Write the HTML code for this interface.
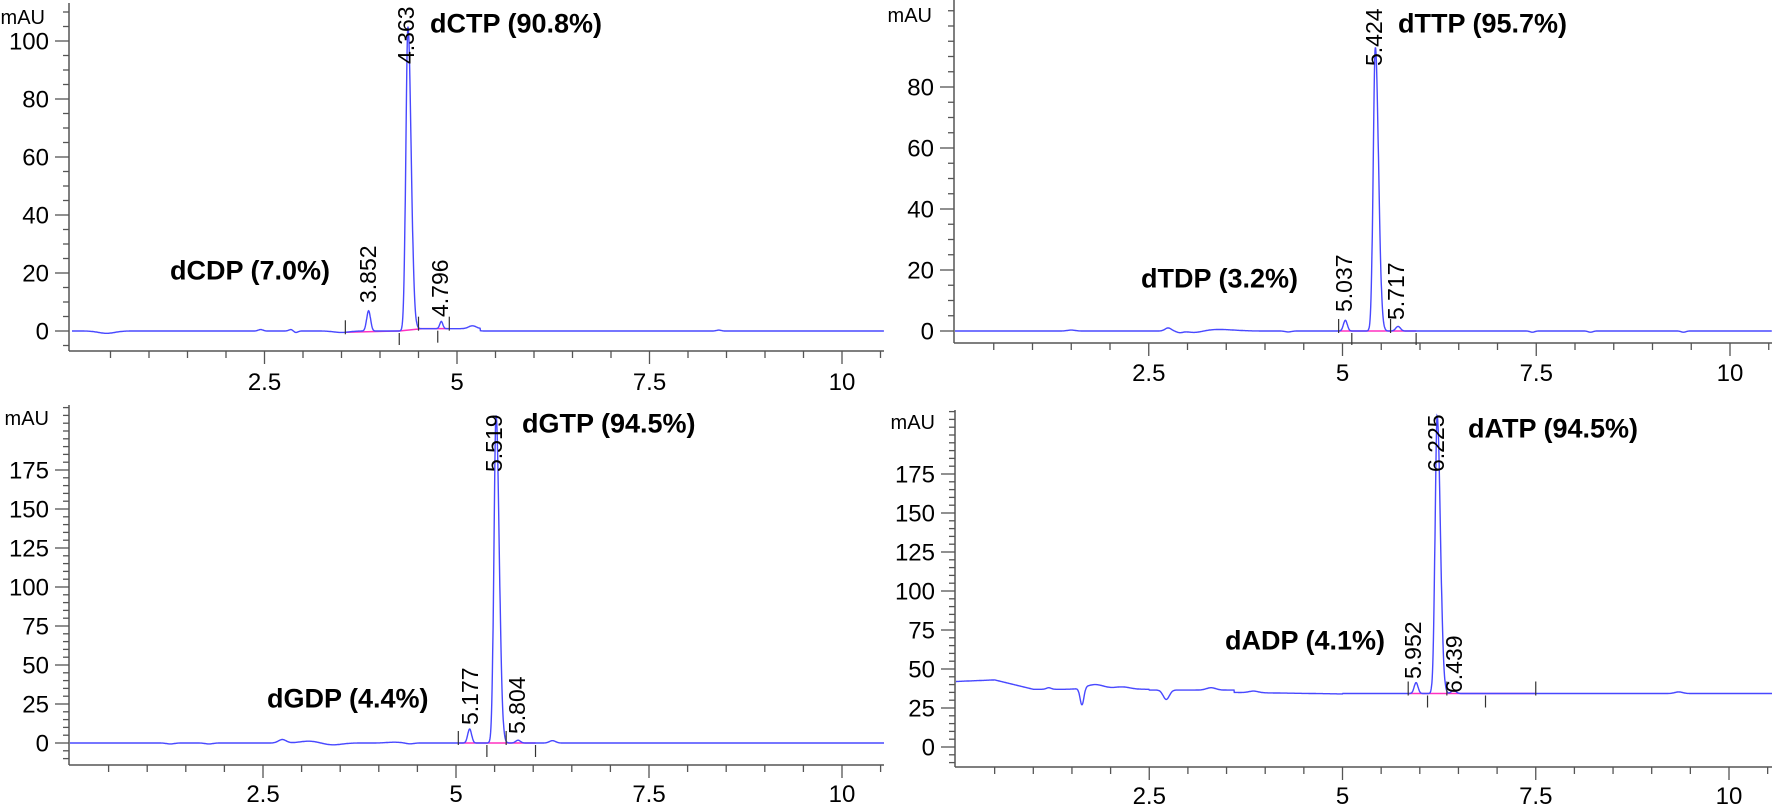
<!DOCTYPE html>
<html><head><meta charset="utf-8">
<style>
html,body{margin:0;padding:0;background:#fff;}
svg{display:block;}
text{font-family:"Liberation Sans",Arial,sans-serif;fill:#000;}
</style></head>
<body>
<svg id="s" width="1772" height="805" viewBox="0 0 1772 805" xmlns="http://www.w3.org/2000/svg">
<g id="g"></g>
</svg>
<script>
var NS="http://www.w3.org/2000/svg";
var g=document.getElementById("g");
function el(t,a,txt){var e=document.createElementNS(NS,t);for(var k in a)e.setAttribute(k,a[k]);if(txt!==undefined)e.textContent=txt;g.appendChild(e);return e;}
function line(x1,y1,x2,y2,c,w){el("line",{x1:x1,y1:y1,x2:x2,y2:y2,stroke:c||"#555","stroke-width":w||1.5});}
function gauss(t,c,h,s,tail){var d=t-c;var ss=(d>0&&tail)?s*tail:s;return h*Math.exp(-d*d/(2*ss*ss));}

var panels=[
 {ax:69,x0:72,sx:77,top:3,bot:351,y0:331,sy:2.9,maj:20,majMax:100,minMin:-5,minMax:110,xend:884,lab:[0,20,40,60,80,100],mau:[45,17],xl:381,
  base:function(t){return -0.8*Math.exp(-Math.pow((t-0.45)/0.15,2))+0.5*gauss(t,2.45,1,0.03)+0.6*gauss(t,2.85,1,0.03)-0.6*gauss(t,2.9,1,0.03)-0.5*gauss(t,3.5,1,0.1)+(t>4.4&&t<5.3?0.8:0)+1*gauss(t,5.2,1,0.05)+0.3*gauss(t,8.4,1,0.03);},
  peaks:[[3.852,7,0.025],[4.363,105,0.027,1.5],[4.796,2.5,0.02]],
  pink:[[3.55,4.25],[4.25,4.55],[4.55,4.9]],marks:[3.55,4.25,4.5,4.75,4.9],
  rl:[["3.852",368,303],["4.363",406,64],["4.796",440,317]],
  bl:[["dCTP (90.8%)",430,23],["dCDP (7.0%)",170,270]]},
 {ax:954,x0:955,sx:77.5,top:0,bot:343,y0:331,sy:3.05,maj:20,majMax:80,minMin:-5,minMax:105,xend:1772,lab:[0,20,40,60,80],mau:[932,15],xl:372,
  base:function(t){return 0.3*gauss(t,1.5,1,0.05)+1.0*gauss(t,2.75,1,0.04)-0.5*gauss(t,2.9,1,0.04)-0.6*gauss(t,3.1,1,0.1)+0.5*gauss(t,3.4,1,0.2)-0.3*gauss(t,4.3,1,0.04)-0.4*gauss(t,7.45,1,0.03)-0.4*gauss(t,8.2,1,0.03)-0.4*gauss(t,9.4,1,0.03);},
  peaks:[[5.037,3.5,0.025],[5.424,93,0.027,1.5],[5.717,1.5,0.03]],
  pink:[[4.95,5.55],[5.55,5.95]],marks:[4.95,5.12,5.62,5.95],
  rl:[["5.037",1344,312],["5.424",1374,66],["5.717",1396,320]],
  bl:[["dTTP (95.7%)",1398,23],["dTDP (3.2%)",1141,278]]},
 {ax:69,x0:70,sx:77.2,top:405,bot:765,y0:743,sy:1.56,maj:25,majMax:175,minMin:-10,minMax:215,xend:884,lab:[0,25,50,75,100,125,150,175],mau:[49,418],xl:793,
  base:function(t){return -0.6*gauss(t,1.3,1,0.05)-0.6*gauss(t,1.8,1,0.05)+2.2*gauss(t,2.75,1,0.05)+1.2*gauss(t,3.1,1,0.12)-1.2*gauss(t,3.4,1,0.12)+0.5*gauss(t,4.2,1,0.1)-0.6*gauss(t,4.4,1,0.05)+1.5*gauss(t,6.25,1,0.04);},
  peaks:[[5.177,9,0.025],[5.519,210,0.027,1.5],[5.804,1.8,0.03]],
  pink:[[5.03,5.4],[5.4,6.03]],marks:[5.03,5.4,5.65,6.03],
  rl:[["5.177",470,725],["5.519",494,472],["5.804",517,734]],
  bl:[["dGTP (94.5%)",522,423],["dGDP (4.4%)",267,698]]},
 {ax:955,x0:956,sx:77.3,top:410,bot:767,y0:747,sy:1.56,maj:25,majMax:175,minMin:-10,minMax:215,xend:1772,lab:[0,25,50,75,100,125,150,175],mau:[935,422],xl:795,
  base:function(t){var b;
    if(t<0.5)b=42+t*2;else if(t<1.0)b=43-(t-0.5)*12;else if(t<2.0)b=37;else if(t<2.5)b=37;else if(t<3.6)b=36.5;else if(t<5)b=35-(t-3.6)*0.7;else b=34.3;
    b+=3*gauss(t,1.8,1,0.12)+1*gauss(t,1.2,1,0.03)-11*gauss(t,1.63,1,0.025)+1.5*gauss(t,3.3,1,0.06)-6*gauss(t,2.72,1,0.04)+1*gauss(t,3.85,1,0.06)+1*gauss(t,9.35,1,0.05)+1.5*gauss(t,2.15,1,0.1);return b;},
  peaks:[[5.952,7,0.025],[6.225,178,0.027,1.5],[6.439,2,0.03]],
  pink:[[5.85,6.1],[6.1,7.5]],marks:[5.85,6.1,6.35,6.85,7.5],
  rl:[["5.952",1413,679],["6.225",1436,472],["6.439",1454,693]],
  bl:[["dATP (94.5%)",1468,428],["dADP (4.1%)",1225,640]]}
];

panels.forEach(function(p){
  line(p.ax,p.top,p.ax,p.bot,"#555",1.5);
  for(var v=p.minMin;v<=p.minMax;v+=5){var y=p.y0-v*p.sy;if(y<p.top||y>p.bot)continue;var maj=(v%p.maj===0&&v>=0&&v<=p.majMax);line(maj?p.ax-14:p.ax-6,y,p.ax,y,"#555",1.3);}
  p.lab.forEach(function(v){el("text",{x:p.ax-20,y:p.y0-v*p.sy+8.5,"font-size":24,"text-anchor":"end"},String(v));});
  el("text",{x:p.mau[0],y:p.mau[1]+7,"font-size":20,"text-anchor":"end"},"mAU");
  line(p.ax,p.bot,p.xend,p.bot,"#555",1.5);
  for(var t=0.5;t<=10.51;t+=0.5){var x=p.x0+t*p.sx;if(x>p.xend)break;var mj=(Math.abs(t/2.5-Math.round(t/2.5))<1e-6);line(x,p.bot,x,p.bot+(mj?13:7),"#555",1.3);}
  [2.5,5,7.5,10].forEach(function(t){el("text",{x:p.x0+t*p.sx,y:p.xl+9,"font-size":24,"text-anchor":"middle"},String(t));});
  p.pink.forEach(function(s){var y1=p.y0-p.base(s[0])*p.sy,y2=p.y0-p.base(s[1])*p.sy;line(p.x0+s[0]*p.sx,y1,p.x0+s[1]*p.sx,y2,"#ff30c0",1.5);});
  var d="";
  for(var t=0;t<=10.6;t+=0.004){var x=p.x0+t*p.sx;if(x>p.xend)break;var v=p.base(t);p.peaks.forEach(function(k){v+=gauss(t,k[0],k[1],k[2],k[3]);});var y=p.y0-v*p.sy;if(y<p.top+2)y=p.top+2;d+=(d?"L":"M")+x.toFixed(1)+" "+y.toFixed(1);}
  el("path",{d:d,fill:"none",stroke:"#4848ff","stroke-width":1.4});
  p.marks.forEach(function(t,i){var x=p.x0+t*p.sx,y=p.y0-p.base(t)*p.sy;line(x,y-(i%2?-2:12),x,y+(i%2?14:2),"#333",1.2);});
  p.rl.forEach(function(r){el("text",{x:0,y:0,"font-size":23,transform:"translate("+(r[1]+8)+","+r[2]+") rotate(-90)"},r[0]);});
  p.bl.forEach(function(r){el("text",{x:r[1],y:r[2]+9.5,"font-size":27,"font-weight":"bold"},r[0]);});
});
</script>
</body></html>
